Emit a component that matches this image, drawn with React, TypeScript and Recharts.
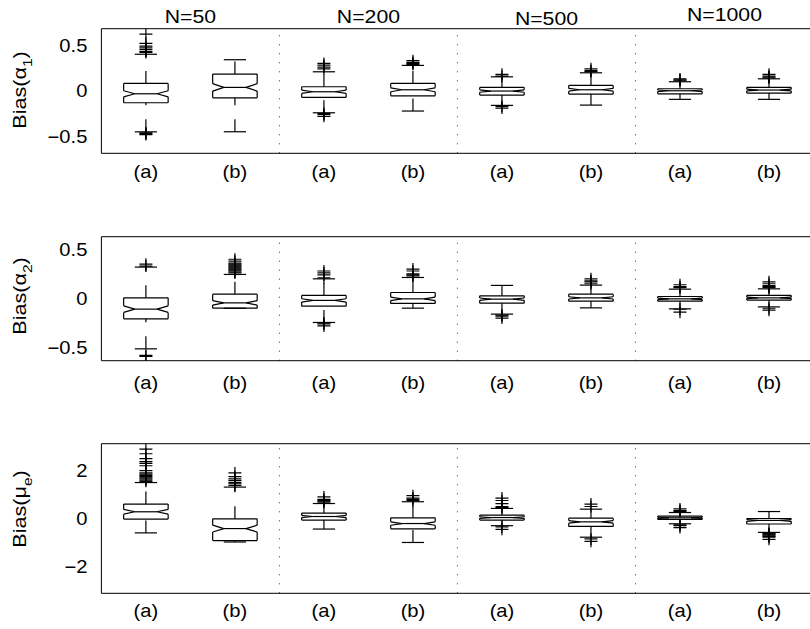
import React from "react";
import { ComposedChart, XAxis, YAxis, Scatter, ReferenceLine } from "recharts";

const groupLabels = ["N=50", "N=200", "N=500", "N=1000"];
const methodLabels = ["(a)", "(b)", "(a)", "(b)", "(a)", "(b)", "(a)", "(b)"];
const boxPositions = [1, 2, 3, 4, 5, 6, 7, 8];
const groupCenters = [1.5, 3.5, 5.5, 7.5];
const groupDividers = [2.5, 4.5, 6.5];
const replications = 100; // notch size, MATLAB style: 1.57 * IQR / sqrt(n)

// Bias(alpha_1)
const alpha1Q1 = [-0.131, -0.077, -0.072, -0.055, -0.047, -0.036, -0.033, -0.025];
const alpha1Median = [-0.033, 0.037, -0.011, 0.011, -0.003, 0.011, 0.0, 0.008];
const alpha1Q3 = [0.081, 0.183, 0.044, 0.081, 0.037, 0.059, 0.022, 0.037];
const alpha1Lower = [-0.45, -0.449, -0.241, -0.222, -0.16, -0.157, -0.094, -0.094];
const alpha1Upper = [0.4, 0.34, 0.208, 0.278, 0.153, 0.197, 0.099, 0.131];
const alpha1Outliers = [
  [0.42, 0.43, 0.45, 0.47, 0.49, 0.52, 0.62, -0.46, -0.47, -0.48],
  [],
  [0.24, 0.26, 0.28, 0.3, -0.25, -0.26, -0.28],
  [0.29, 0.3, 0.31, 0.33],
  [0.16, 0.18, -0.17, -0.19],
  [0.21, 0.22, 0.24],
  [0.11, 0.12, 0.13],
  [0.14, 0.15, 0.16, 0.18],
];

// Bias(alpha_2)
const alpha2Q1 = [-0.208, -0.099, -0.079, -0.051, -0.048, -0.028, -0.028, -0.017];
const alpha2Median = [-0.109, -0.045, -0.02, -0.004, -0.007, 0.006, -0.004, 0.006];
const alpha2Q3 = [0.006, 0.044, 0.031, 0.061, 0.027, 0.044, 0.02, 0.031];
const alpha2Lower = [-0.514, -0.1, -0.245, -0.099, -0.16, -0.096, -0.106, -0.086];
const alpha2Upper = [0.32, 0.245, 0.2, 0.214, 0.133, 0.136, 0.095, 0.098];
const alpha2Outliers = [
  [0.33, 0.35, -0.58, -0.59],
  [0.26, 0.27, 0.28, 0.29, 0.3, 0.31, 0.32, 0.33, 0.34, 0.35, 0.36, 0.38, 0.4],
  [0.21, 0.24, 0.26, 0.28, -0.25, -0.26, -0.28],
  [0.23, 0.24, 0.25, 0.28, 0.3],
  [-0.17, -0.18, -0.2],
  [0.15, 0.17, 0.18, 0.2],
  [0.11, 0.12, 0.14, -0.11, -0.14],
  [0.11, 0.12, 0.13, 0.15, 0.17, -0.1, -0.12],
];

// Bias(mu_e)
const muQ1 = [-0.025, -0.92, -0.067, -0.43, -0.067, -0.33, -0.04, -0.23];
const muMedian = [0.28, -0.42, 0.083, -0.21, 0.04, -0.14, 0.03, -0.08];
const muQ3 = [0.6, -0.013, 0.225, 0.03, 0.14, 0.015, 0.1, 0.0];
const muLower = [-0.6, -0.98, -0.44, -1.0, -0.3, -0.78, -0.22, -0.58];
const muUpper = [1.5, 1.31, 0.625, 0.7, 0.42, 0.39, 0.25, 0.29];
const muOutliers = [
  [1.55, 1.6, 1.65, 1.7, 1.75, 1.8, 1.85, 1.9, 2.0, 2.2, 2.3, 2.37, 2.5, 2.7, 2.89],
  [1.38, 1.45, 1.5, 1.58, 1.65, 1.75, 1.9],
  [0.68, 0.72, 0.76, 0.8, 0.9],
  [0.75, 0.8, 0.85, 0.95],
  [0.45, 0.5, 0.62, 0.75, 0.85, -0.35, -0.45],
  [0.5, 0.6, -0.85, -0.95],
  [0.3, 0.33, 0.4, -0.26, -0.3, -0.38],
  [-0.62, -0.65, -0.68, -0.72, -0.75, -0.78, -0.87],
];

const alphaTicks = [-0.5, 0, 0.5];
const muTicks = [-2, 0, 2];

const FONT = "'Liberation Sans', Arial, Helvetica, sans-serif";
const CHART_W = 830;
const BOX_HALF = 0.25;
const NOTCH_HALF = 0.125;
const CAP_HALF = 0.125;
const WHISKER_DASH = "12.5 14";
const LINE_W = 1.2;
const tickMarks = [1, 2, 2.5, 3, 4, 4.5, 5, 6, 6.5, 7, 8];
const titleLift = [6, 6, 4, 7.5]; // titles sit at slightly different heights in the original

const fmt = (v: number) => (v < 0 ? "\u2212" + Math.abs(v) : String(v));

function PlusMark(props: any) {
  const { cx, cy } = props;
  if (cx == null || cy == null) return <g />;
  return (
    <g>
      <line x1={cx - 6.5} x2={cx + 6.5} y1={cy} y2={cy} stroke="#000" strokeWidth={LINE_W} />
      <line x1={cx} x2={cx} y1={cy - 6} y2={cy + 6} stroke="#000" strokeWidth={LINE_W} />
    </g>
  );
}

function BottomTick(props: any) {
  const { x, y, payload } = props;
  const label = methodLabels[boxPositions.indexOf(payload.value)];
  return (
    <text
      transform={`translate(${x},${y}) scale(1.12,1)`}
      textAnchor="middle"
      dy="0.71em"
      fontSize={18}
      fontFamily={FONT}
      fill="#000"
    >
      {label}
    </text>
  );
}

function LeftTick(props: any) {
  const { x, y, payload } = props;
  return (
    <text
      transform={`translate(${x},${y}) scale(1.12,1)`}
      textAnchor="end"
      dy="0.355em"
      fontSize={18}
      fontFamily={FONT}
      fill="#000"
    >
      {fmt(payload.value)}
    </text>
  );
}

function GroupTitle(props: any) {
  const { viewBox, index } = props;
  if (!viewBox) return null;
  const x = viewBox.x + (viewBox.width || 0) / 2;
  const y = viewBox.y - titleLift[index];
  return (
    <text
      transform={`translate(${x},${y}) scale(1.18,1)`}
      textAnchor="middle"
      fontSize={18}
      fontFamily={FONT}
      fill="#000"
    >
      {groupLabels[index]}
    </text>
  );
}

type Pt = { x: number; y: number };

function buildSegments(q1: number[], median: number[], q3: number[], lower: number[], upper: number[]) {
  const segs: { seg: Pt[]; dash?: string }[] = [];
  boxPositions.forEach((p, i) => {
    const notch = (1.57 * (q3[i] - q1[i])) / Math.sqrt(replications);
    const nLo = median[i] - notch;
    const nHi = median[i] + notch;
    const outline: Pt[] = [
      { x: p - BOX_HALF, y: q1[i] },
      { x: p - BOX_HALF, y: nLo },
      { x: p - NOTCH_HALF, y: median[i] },
      { x: p - BOX_HALF, y: nHi },
      { x: p - BOX_HALF, y: q3[i] },
      { x: p + BOX_HALF, y: q3[i] },
      { x: p + BOX_HALF, y: nHi },
      { x: p + NOTCH_HALF, y: median[i] },
      { x: p + BOX_HALF, y: nLo },
      { x: p + BOX_HALF, y: q1[i] },
      { x: p - BOX_HALF, y: q1[i] },
    ];
    for (let k = 0; k < outline.length - 1; k++) segs.push({ seg: [outline[k], outline[k + 1]] });
    segs.push({ seg: [{ x: p - NOTCH_HALF, y: median[i] }, { x: p + NOTCH_HALF, y: median[i] }] });
    // whiskers are drawn bottom-to-top, so the dash pattern starts at the lower end
    segs.push({ seg: [{ x: p, y: lower[i] }, { x: p, y: q1[i] }], dash: WHISKER_DASH });
    segs.push({ seg: [{ x: p, y: q3[i] }, { x: p, y: upper[i] }], dash: WHISKER_DASH });
    segs.push({ seg: [{ x: p - CAP_HALF, y: lower[i] }, { x: p + CAP_HALF, y: lower[i] }] });
    segs.push({ seg: [{ x: p - CAP_HALF, y: upper[i] }, { x: p + CAP_HALF, y: upper[i] }] });
  });
  return segs;
}

interface BoxPanelProps {
  q1: number[];
  median: number[];
  q3: number[];
  lower: number[];
  upper: number[];
  outliers: number[][];
  domain: [number, number];
  yTicks: number[];
  top: number;
  height: number;
  marginTop: number;
  marginBottom: number;
  labelGap: number;
  titles?: boolean;
}

function BoxPanel(props: BoxPanelProps) {
  const { q1, median, q3, lower, upper, outliers, domain, yTicks, top, height, marginTop, marginBottom, labelGap, titles } = props;
  const outlierData = outliers.flatMap((vals, i) => vals.map((v) => ({ x: boxPositions[i], y: v })));
  const segments = buildSegments(q1, median, q3, lower, upper);

  return (
    <div style={{ position: "absolute", left: 0, top, width: CHART_W, height }}>
      <ComposedChart
        width={CHART_W}
        height={height}
        margin={{ top: marginTop, bottom: marginBottom, left: 41.4, right: 16.5 }}
      >
        <XAxis
          dataKey="x"
          type="number"
          domain={[0.5, 8.5]}
          allowDataOverflow
          ticks={boxPositions}
          interval={0}
          height={30}
          tickLine={false}
          tickSize={0}
          tickMargin={labelGap}
          stroke="#000"
          tick={<BottomTick />}
        />
        <XAxis
          xAxisId="bt"
          type="number"
          domain={[0.5, 8.5]}
          allowDataOverflow
          ticks={tickMarks}
          interval={0}
          mirror
          tick={false}
          tickSize={5}
          axisLine={false}
          stroke="#000"
        />
        <XAxis
          xAxisId="tt"
          type="number"
          orientation="top"
          domain={[0.5, 8.5]}
          allowDataOverflow
          ticks={tickMarks}
          interval={0}
          mirror
          tick={false}
          tickSize={5}
          stroke="#000"
        />
        <YAxis
          dataKey="y"
          type="number"
          domain={domain}
          allowDataOverflow
          ticks={yTicks}
          interval={0}
          width={60}
          tickLine={false}
          tickSize={0}
          tickMargin={14}
          stroke="#000"
          tick={<LeftTick />}
        />
        <YAxis
          yAxisId="lt"
          type="number"
          domain={domain}
          allowDataOverflow
          ticks={yTicks}
          interval={0}
          mirror
          tick={false}
          tickSize={5}
          axisLine={false}
          stroke="#000"
        />
        <YAxis
          yAxisId="rt"
          type="number"
          orientation="right"
          domain={domain}
          allowDataOverflow
          ticks={yTicks}
          interval={0}
          mirror
          tick={false}
          tickSize={5}
          stroke="#000"
        />
        {groupDividers.map((d) => (
          <ReferenceLine key={"div" + d} x={d} stroke="#333" strokeDasharray="1 8" />
        ))}
        {titles &&
          groupCenters.map((c, i) => (
            <ReferenceLine
              key={"title" + c}
              x={c}
              stroke="none"
              label={<GroupTitle index={i} />}
            />
          ))}
        {segments.map((s, i) => (
          <ReferenceLine
            key={"seg" + i}
            segment={s.seg}
            stroke="#000"
            strokeWidth={LINE_W}
            strokeDasharray={s.dash}
          />
        ))}
        <Scatter data={outlierData} dataKey="y" shape={<PlusMark />} isAnimationActive={false} />
      </ComposedChart>
    </div>
  );
}

function AxisTitle({ x, y, name, sub }: { x: number; y: number; name: string; sub: string }) {
  return (
    <text
      transform={`translate(${x},${y}) rotate(-90) scale(1.2,1)`}
      textAnchor="middle"
      fontSize={18}
      fontFamily={FONT}
      fill="#000"
    >
      {"Bias(" + name}
      <tspan dy={6.5} fontSize={13}>
        {sub}
      </tspan>
      <tspan dy={-6.5} fontSize={18}>
        )
      </tspan>
    </text>
  );
}

export default function App() {
  return (
    <div
      style={{
        position: "fixed",
        left: 0,
        top: 0,
        width: 810,
        height: 629,
        overflow: "hidden",
        background: "#fff",
      }}
    >
      <BoxPanel
        q1={alpha1Q1}
        median={alpha1Median}
        q3={alpha1Q3}
        lower={alpha1Lower}
        upper={alpha1Upper}
        outliers={alpha1Outliers}
        domain={[-0.685, 0.68]}
        yTicks={alphaTicks}
        top={0}
        height={200}
        marginTop={28.7}
        marginBottom={16.7}
        labelGap={12}
        titles
      />
      <BoxPanel
        q1={alpha2Q1}
        median={alpha2Median}
        q3={alpha2Q3}
        lower={alpha2Lower}
        upper={alpha2Upper}
        outliers={alpha2Outliers}
        domain={[-0.635, 0.63]}
        yTicks={alphaTicks}
        top={200}
        height={200}
        marginTop={36.7}
        marginBottom={9.3}
        labelGap={15.5}
      />
      <BoxPanel
        q1={muQ1}
        median={muMedian}
        q3={muQ3}
        lower={muLower}
        upper={muUpper}
        outliers={muOutliers}
        domain={[-3.12, 3.12]}
        yTicks={muTicks}
        top={400}
        height={229}
        marginTop={43.7}
        marginBottom={5.7}
        labelGap={11}
      />
      <svg
        width={810}
        height={629}
        style={{ position: "absolute", left: 0, top: 0, pointerEvents: "none" }}
      >
        <AxisTitle x={25.5} y={90} name={"\u03b1"} sub="1" />
        <AxisTitle x={25.5} y={296} name={"\u03b1"} sub="2" />
        <AxisTitle x={25.5} y={509} name={"\u03bc"} sub="e" />
      </svg>
    </div>
  );
}
